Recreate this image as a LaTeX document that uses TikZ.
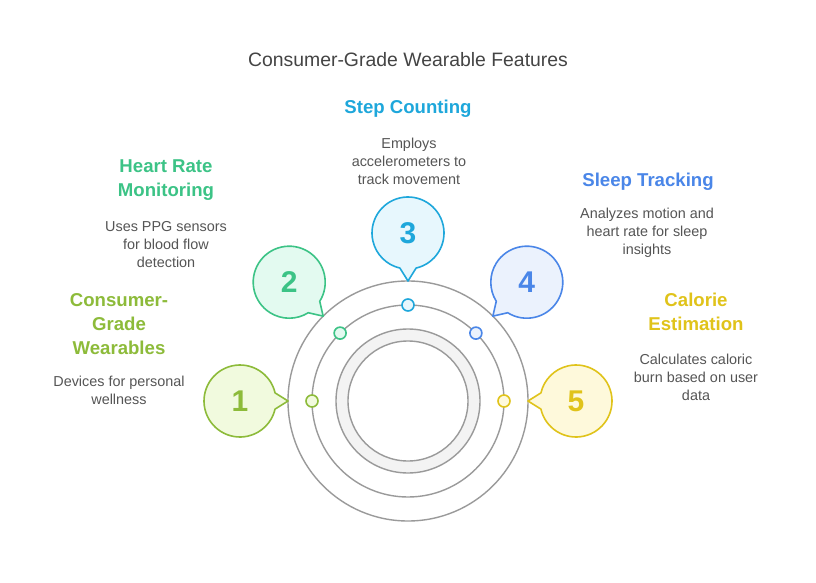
\documentclass[tikz,border=0pt]{standalone}
\usepackage{fontspec}
\setmainfont{Liberation Sans}
\usetikzlibrary{calc}
\definecolor{cA}{HTML}{8DBB3A}\definecolor{fA}{HTML}{F1FADE}
\definecolor{cB}{HTML}{3CC386}\definecolor{fB}{HTML}{E3FAF0}
\definecolor{cC}{HTML}{1EA7DB}\definecolor{fC}{HTML}{E7F7FD}
\definecolor{cD}{HTML}{4A86E8}\definecolor{fD}{HTML}{EBF2FD}
\definecolor{cE}{HTML}{E0C31A}\definecolor{fE}{HTML}{FEF9DB}
\definecolor{gline}{HTML}{9A9A9A}
\definecolor{ringfill}{HTML}{F3F3F3}
\definecolor{bodytxt}{HTML}{555555}
\definecolor{titletxt}{HTML}{444444}
\newcommand{\balloon}[4]{%
  \filldraw[draw=#3, fill=#4, line width=1.6pt, line join=round]
    ($(#1)+(#2+13:36)$) arc[start angle=#2+13, end angle=#2+347, radius=36]
    -- ($(#1)+(#2:48)$) -- cycle;}
\begin{document}
\begin{tikzpicture}[x=1pt,y=1pt,
  heading/.style={font=\fontsize{18.6}{24}\selectfont\bfseries, align=center, inner sep=0pt},
  bodytext/.style={font=\fontsize{14.4}{18}\selectfont, text=bodytxt, align=center, inner sep=0pt},
  numtext/.style={font=\fontsize{30}{30}\selectfont\bfseries, inner sep=0pt},
  dot/.style={circle, minimum size=12pt, inner sep=0pt, line width=1.6pt},
  ring/.style={draw=gline, line width=1.4pt}]
\useasboundingbox (0,0) rectangle (816,582);
\fill[white] (0,0) rectangle (816,582);
\coordinate (O) at (408,181);
% title
\node[font=\fontsize{19.4}{22}\selectfont, text=titletxt, inner sep=0pt] (title) at (408,522) {Consumer-Grade Wearable Features};
% circles
\draw[ring] (O) circle (120pt);
\draw[ring] (O) circle (96pt);
\filldraw[ring, fill=ringfill, even odd rule] (O) circle (72pt) (O) circle (60pt);
% dots
\node[dot, draw=cA, fill=fA] (d1) at ($(O)+(180:96)$) {};
\node[dot, draw=cB, fill=fB] (d2) at ($(O)+(135:96)$) {};
\node[dot, draw=cC, fill=fC] (d3) at ($(O)+(90:96)$) {};
\node[dot, draw=cD, fill=fD] (d4) at ($(O)+(45:96)$) {};
\node[dot, draw=cE, fill=fE] (d5) at ($(O)+(0:96)$) {};
% balloons
\coordinate (b1) at ($(O)+(180:168)$);
\coordinate (b2) at ($(O)+(135:168)$);
\coordinate (b3) at ($(O)+(90:168)$);
\coordinate (b4) at ($(O)+(45:168)$);
\coordinate (b5) at ($(O)+(0:168)$);
\balloon{b1}{0}{cA}{fA}
\balloon{b2}{-45}{cB}{fB}
\balloon{b3}{-90}{cC}{fC}
\balloon{b4}{-135}{cD}{fD}
\balloon{b5}{180}{cE}{fE}
\node[numtext, text=cA] (n1) at (b1) {1};
\node[numtext, text=cB] (n2) at (b2) {2};
\node[numtext, text=cC] (n3) at (b3) {3};
\node[numtext, text=cD] (n4) at (b4) {4};
\node[numtext, text=cE] (n5) at (b5) {5};
% texts
\node[heading, text=cC] (h3) at (408,473) {Step Counting};
\node[bodytext] (t3) at (409,421) {Employs\\accelerometers to\\track movement};
\node[heading, text=cD] (h4) at (648,400) {Sleep Tracking};
\node[bodytext] (t4) at (647,349) {Analyzes motion and\\heart rate for sleep\\insights};
\node[heading, text=cE] (h5) at (696,270) {Calorie\\Estimation};
\node[bodytext] (t5) at (696,205) {Calculates caloric\\burn based on user\\data};
\node[heading, text=cB] (h2) at (166,402) {Heart Rate\\Monitoring};
\node[bodytext] (t2) at (166,337) {Uses PPG sensors\\for blood flow\\detection};
\node[heading, text=cA] (h1) at (119,258) {Consumer-\\Grade\\Wearables};
\node[bodytext] (t1) at (119,192) {Devices for personal\\wellness};
\end{tikzpicture}
\end{document}
